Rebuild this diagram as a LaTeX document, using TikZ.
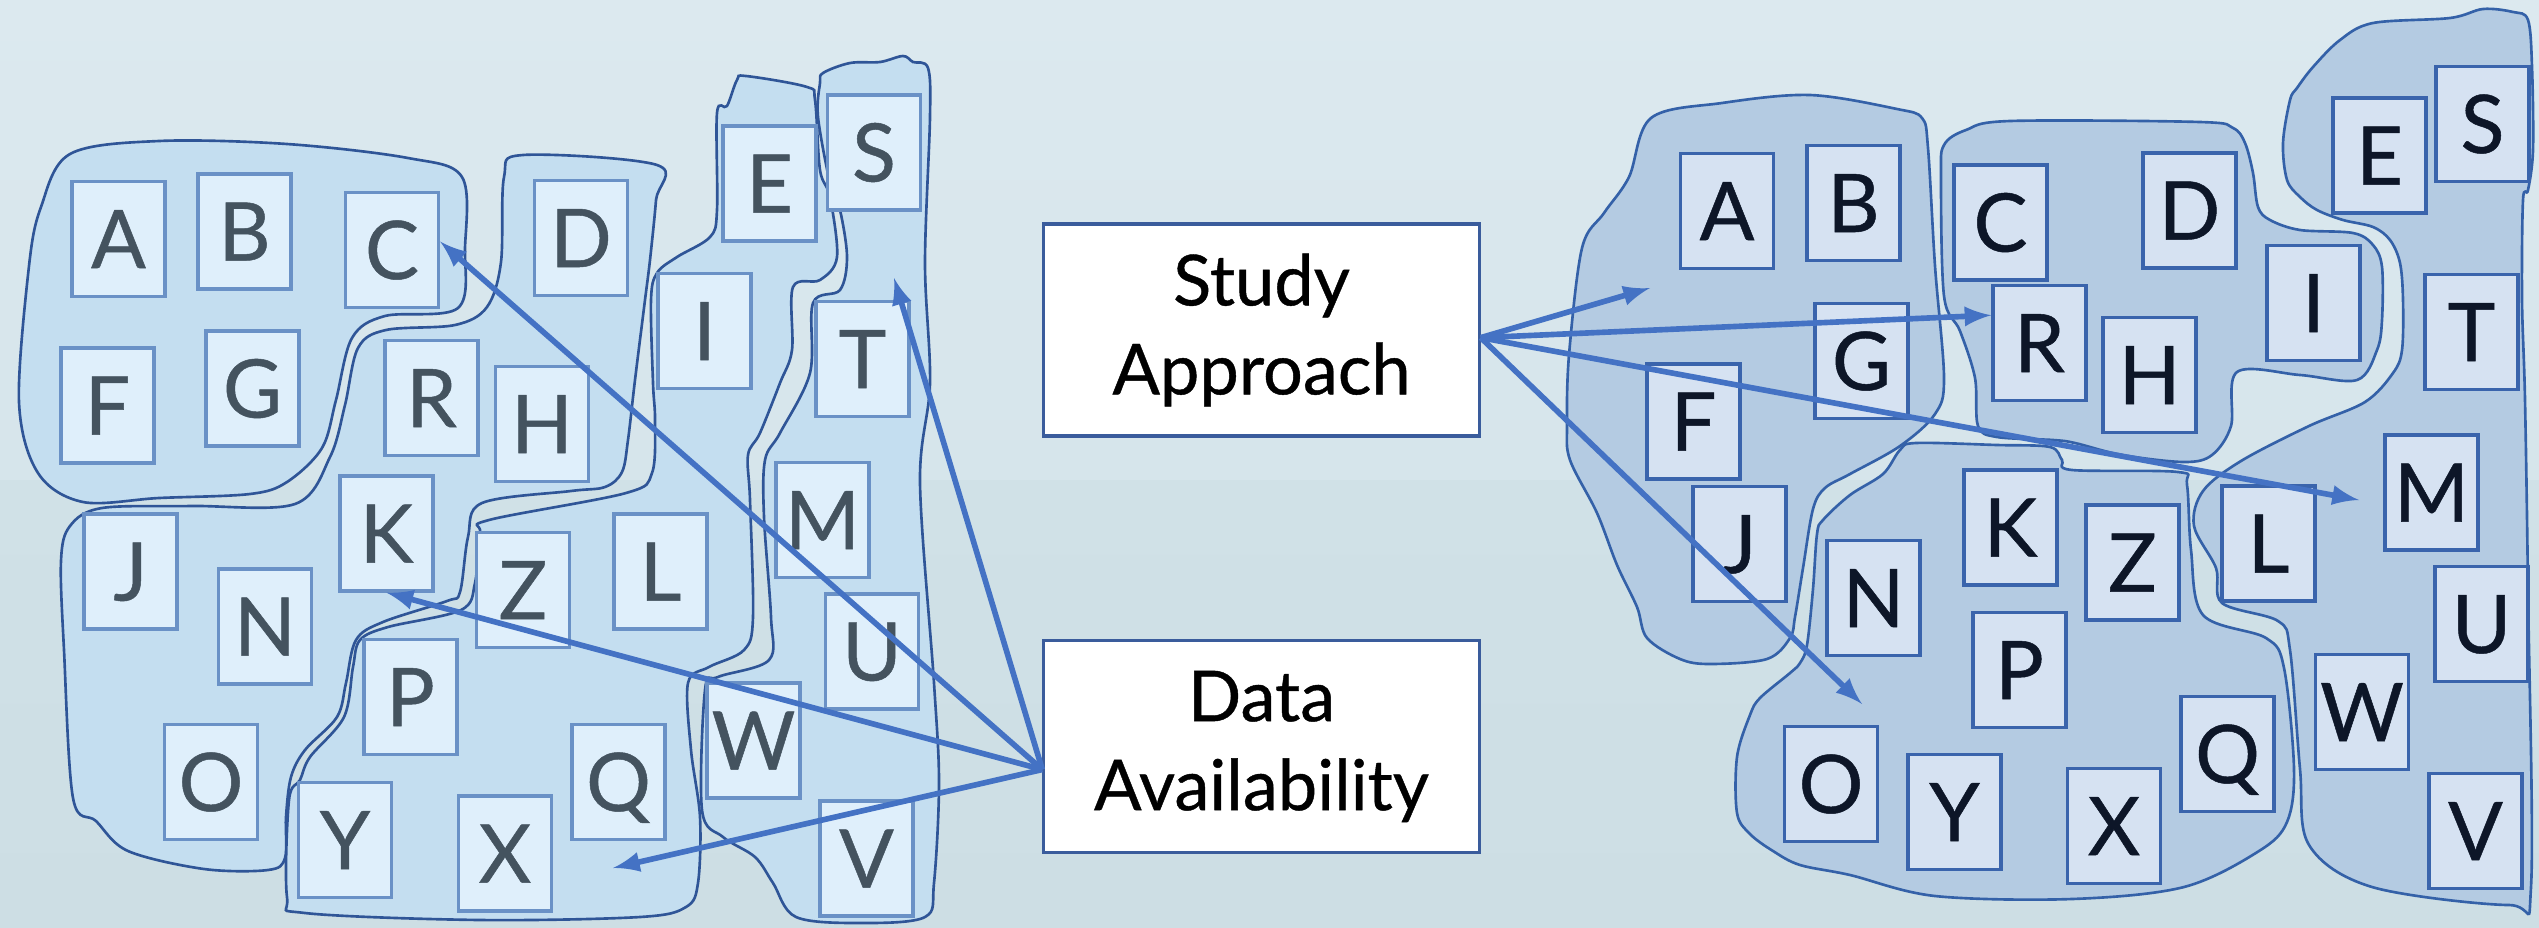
\documentclass[tikz,border=0pt]{standalone}
\usepackage{fontspec}
\setmainfont{Lato}
\newfontfamily\heavylato{Lato}[FakeBold=0.6]
\usepackage{tikz}

\definecolor{skytop}{HTML}{DCE9EF}
\definecolor{skymid}{HTML}{D6E5EB}
\definecolor{seatop}{HTML}{D0E1E7}
\definecolor{seabot}{HTML}{CDDEE4}
\definecolor{paleblob}{HTML}{C4DEF0}
\definecolor{paleedge}{HTML}{2F5597}
\definecolor{palefill}{HTML}{DFEFFB}
\definecolor{paleline}{HTML}{6A91C6}
\definecolor{paleink}{HTML}{44535F}
\definecolor{deepblob}{HTML}{B4CBE2}
\definecolor{deepedge}{HTML}{3461A8}
\definecolor{deepfill}{HTML}{D6E2F2}
\definecolor{deepline}{HTML}{3A64AC}
\definecolor{deepink}{HTML}{0D1628}
\definecolor{arrowblue}{HTML}{4472C4}
\definecolor{labeledge}{HTML}{3A5C9C}

\tikzset{
	paleregion/.style = {fill = paleblob, draw = paleedge, line width = 0.75pt},
	deepregion/.style = {fill = deepblob, draw = deepedge, line width = 0.75pt},
	letterbox/.style = {line width = 0.9pt, minimum width = 0.93cm, minimum height = 1.15cm,
		inner sep = 0pt, text height = 0.58cm, text depth = 0pt,
		font = \heavylato\fontsize{23}{27}\selectfont},
	palebox/.style = {letterbox, draw = paleline, fill = palefill, text = paleink},
	deepbox/.style = {letterbox, draw = deepline, fill = deepfill, text = deepink},
	labelbox/.style = {draw = labeledge, fill = white, line width = 0.9pt,
		minimum width = 4.35cm, minimum height = 2.12cm, align = center,
		font = \heavylato\fontsize{20}{25.3}\selectfont},
	pointer/.style = {->, draw = arrowblue, line width = 1.6pt}
}

\begin{document}
\begin{tikzpicture}[x = 0.01cm, y = -0.01cm]
		\tikzset{> = latex}
		\useasboundingbox (0,0) rectangle (2539,927);
		\shade[top color = skytop, bottom color = skymid] (0,0) rectangle (2539,480);
		\shade[top color = seatop, bottom color = seabot] (0,480) rectangle (2539,927);

		% left map
		\filldraw[paleregion] plot[smooth cycle, tension = 0.55] coordinates {(70,154) (159,141) (287,144) (408,158) (462,177) (465,248) (458,308) (385,316) (352,338) (336,400) (322,448) (287,482) (250,494) (159,498) (83,502) (38,473) (19,402) (29,266) (41,207)};
		\filldraw[paleregion] plot[smooth cycle, tension = 0.55] coordinates {(504,177) (523,155) (657,165) (656,200) (650,260) (645,300) (635,380) (628,440) (622,472) (605,487) (571,491) (482,503) (468,537) (460,592) (447,601) (383,622) (356,640) (346,683) (337,717) (305,750) (291,777) (286,817) (285,858) (268,870) (204,869) (128,851) (96,821) (73,798) (64,650) (61,561) (70,526) (102,508) (191,506) (295,504) (330,457) (345,405) (358,348) (386,330) (455,325) (487,307) (501,262)};
		\filldraw[paleregion] plot[smooth cycle, tension = 0.55] coordinates {(717,113) (727,106) (737,80) (746,76) (807,87) (815,100) (820,170) (830,197) (837,257) (820,280) (793,287) (792,350) (780,383) (760,433) (748,455) (750,500) (753,617) (744,650) (709,667) (688,683) (691,750) (700,817) (698,883) (686,907) (640,917) (480,920) (305,913) (287,897) (289,800) (300,780) (310,757) (344,717) (353,667) (360,640) (388,627) (461,610) (475,583) (480,533) (489,520) (626,493) (652,473) (655,420) (653,383) (651,300) (657,273) (677,257) (710,237) (717,210)};
		\filldraw[paleregion] plot[smooth cycle, tension = 0.55] coordinates {(820,83) (823,73) (850,63) (880,62) (903,56) (913,62) (928,68) (930,117) (925,263) (930,383) (920,483) (934,683) (939,783) (934,883) (925,917) (861,923) (796,917) (773,883) (755,857) (723,837) (702,810) (705,690) (718,677) (769,660) (771,617) (764,517) (765,460) (780,433) (810,373) (813,303) (840,290) (847,257) (840,210) (830,183) (818,117)};

		% right map
		\filldraw[deepregion] plot[smooth cycle, tension = 0.55] coordinates {(1651,118) (1722,103) (1810,95) (1897,109) (1922,118) (1928,148) (1935,266) (1944,378) (1935,414) (1900,446) (1850,474) (1825,488) (1813,509) (1803,568) (1795,617) (1790,638) (1767,659) (1710,664) (1680,659) (1647,638) (1637,607) (1617,565) (1597,513) (1570,460) (1567,425) (1569,355) (1582,248) (1604,213) (1629,177)};
		\filldraw[deepregion] plot[smooth cycle, tension = 0.55] coordinates {(1944,145) (1966,130) (2010,121) (2200,122) (2233,128) (2245,143) (2253,173) (2258,207) (2270,220) (2300,230) (2353,233) (2373,245) (2382,267) (2382,320) (2377,350) (2357,380) (2300,375) (2237,372) (2231,426) (2212,455) (2184,462) (2122,455) (2075,443) (2053,440) (1997,437) (1978,426) (1975,378) (1960,331) (1944,296) (1941,177)};
		\filldraw[deepregion] plot[smooth cycle, tension = 0.55] coordinates {(2290,100) (2297,88) (2313,67) (2340,40) (2373,23) (2450,18) (2483,9) (2513,12) (2528,20) (2532,67) (2533,150) (2528,190) (2523,200) (2522,300) (2525,400) (2528,591) (2531,887) (2509,905) (2372,887) (2309,845) (2300,769) (2290,650) (2278,621) (2222,603) (2216,568) (2194,526) (2203,491) (2241,461) (2309,426) (2365,402) (2393,373) (2402,350) (2403,300) (2400,263) (2390,240) (2373,227) (2343,220) (2317,210) (2300,197) (2287,180) (2283,143)};
		\filldraw[deepregion] plot[smooth cycle, tension = 0.55] coordinates {(1900,450) (1916,443) (1997,445) (2050,447) (2062,460) (2072,470) (2178,472) (2187,485) (2191,550) (2203,615) (2266,638) (2284,668) (2294,769) (2287,822) (2259,851) (2184,887) (2072,899) (1935,896) (1850,875) (1800,865) (1773,851) (1750,834) (1737,813) (1737,757) (1750,715) (1760,698) (1790,673) (1800,663) (1807,645) (1813,589) (1817,534) (1823,520) (1850,495) (1883,474)};

		% left letters
		\node[palebox] (lA) at (118.5,239){A};
		\node[palebox] (lB) at (244.5,231.5){B};
		\node[palebox] (lC) at (392,250){C};
		\node[palebox] (lD) at (581,238){D};
		\node[palebox] (lE) at (769.5,183.5){E};
		\node[palebox] (lS) at (874,152.5){S};
		\node[palebox] (lF) at (107.5,405.5){F};
		\node[palebox] (lG) at (252.5,388.5){G};
		\node[palebox] (lR) at (431.5,398){R};
		\node[palebox] (lH) at (542,424){H};
		\node[palebox] (lI) at (704.5,331){I};
		\node[palebox] (lT) at (862.5,359){T};
		\node[palebox] (lJ) at (130.5,571.5){J};
		\node[palebox] (lK) at (386.5,533.5){K};
		\node[palebox] (lN) at (265,626.5){N};
		\node[palebox] (lZ) at (523,590){Z};
		\node[palebox] (lL) at (660.5,571.5){L};
		\node[palebox] (lM) at (822.5,520){M};
		\node[palebox] (lU) at (872,651.5){U};
		\node[palebox] (lP) at (410.5,697){P};
		\node[palebox] (lW) at (753.5,740.5){W};
		\node[palebox] (lO) at (211,782){O};
		\node[palebox] (lQ) at (618.5,782){Q};
		\node[palebox] (lY) at (345,840){Y};
		\node[palebox] (lX) at (505,853.5){X};
		\node[palebox] (lV) at (866.5,858.5){V};

		% right letters
		\node[deepbox] (rA) at (1727,211){A};
		\node[deepbox] (rB) at (1853.5,203){B};
		\node[deepbox] (rC) at (2000.5,222.5){C};
		\node[deepbox] (rD) at (2189.5,210.5){D};
		\node[deepbox] (rE) at (2379.5,155.5){E};
		\node[deepbox] (rS) at (2482.5,124){S};
		\node[deepbox] (rG) at (1861.5,361){G};
		\node[deepbox] (rR) at (2039.5,343){R};
		\node[deepbox] (rH) at (2149.5,375){H};
		\node[deepbox] (rI) at (2313.5,303){I};
		\node[deepbox] (rT) at (2471.5,332){T};
		\node[deepbox] (rF) at (1693.5,421.5){F};
		\node[deepbox] (rJ) at (1739.5,544){J};
		\node[deepbox] (rM) at (2431.5,492.5){M};
		\node[deepbox] (rK) at (2010.5,527.5){K};
		\node[deepbox] (rZ) at (2132.5,562.5){Z};
		\node[deepbox] (rL) at (2268.5,543.5){L};
		\node[deepbox] (rN) at (1873.5,598){N};
		\node[deepbox] (rU) at (2481.5,624){U};
		\node[deepbox] (rP) at (2019.5,670){P};
		\node[deepbox] (rW) at (2362,712){W};
		\node[deepbox] (rQ) at (2227.5,754){Q};
		\node[deepbox] (rO) at (1831,784){O};
		\node[deepbox] (rY) at (1954.5,812){Y};
		\node[deepbox] (rX) at (2114,826){X};
		\node[deepbox] (rV) at (2475.5,831){V};

		% the two labels
		\node[labelbox] (SA) at (1261.5,330){Study\\Approach};
		\node[labelbox] (DA) at (1261.5,746.5){Data\\Availability};

		\coordinate (saA) at (1650,288);
		\coordinate (saM) at (2359,500);
		\coordinate (saO) at (1862,704);
		\coordinate (daT) at (894,278);
		\coordinate (daX) at (613,868);

		\draw[pointer] (SA.358) -- (saA);
		\draw[pointer] (SA.358) -- (rR.150);
		\draw[pointer] (SA.358) -- (saM);
		\draw[pointer] (SA.358) -- (saO);
		\draw[pointer] (DA.186) -- (lC.10);
		\draw[pointer] (DA.186) -- (daT);
		\draw[pointer] (DA.186) -- (lK.south);
		\draw[pointer] (DA.186) -- (daX);
	\end{tikzpicture}
\end{document}
